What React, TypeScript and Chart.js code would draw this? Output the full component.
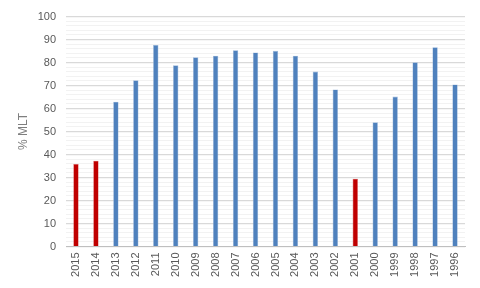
import React, { useEffect, useRef } from "react";
import { Chart, registerables } from "chart.js";

Chart.register(...registerables);

const years = ["2015","2014","2013","2012","2011","2010","2009","2008","2007","2006","2005","2004","2003","2002","2001","2000","1999","1998","1997","1996"];
const values = [35.9,37.3,63.0,72.3,87.7,78.8,82.3,83.0,85.4,84.4,85.1,83.0,76.1,68.3,29.5,54.0,65.2,80.1,86.7,70.5];
const highlightYears = ["2015","2014","2001"];
const yTitle = "% MLT";

export default function App() {
  const ref = useRef<HTMLCanvasElement>(null);
  useEffect(() => {
    if (!ref.current) return;
    const colors = years.map(y => highlightYears.includes(y) ? "#C00000" : "#4F81BD");
    const borders = years.map(y => highlightYears.includes(y) ? "#D96666" : "#9BB7DA");
    const chart = new Chart(ref.current, {
      type: "bar",
      data: {
        labels: years,
        datasets: [{
          data: values,
          backgroundColor: colors,
          borderColor: borders,
          borderWidth: { left: 0.6, right: 0.6, top: 0.6, bottom: 0 },
          barPercentage: 0.27,
          categoryPercentage: 1,
        }],
      },
      options: {
        animation: false,
        responsive: false,
        maintainAspectRatio: false,
        layout: { padding: { top: 6.5, right: 15, bottom: 0, left: 0 } },
        plugins: { legend: { display: false }, tooltip: { enabled: false } },
        scales: {
          x: {
            grid: { display: false, drawTicks: false },
            border: { color: "#BFBFBF" },
            ticks: {
              color: "#595959",
              font: { family: "Liberation Sans", size: 11 },
              maxRotation: 90,
              minRotation: 90,
              autoSkip: false,
              padding: 6,
            },
            afterFit: (s: any) => { s.height = 41.5; },
          },
          y: {
            min: 0,
            max: 100,
            title: {
              display: true,
              text: yTitle,
              color: "#7F7F7F",
              font: { family: "Liberation Sans", size: 12 },
              padding: { top: 16, bottom: 4 },
            },
            grid: {
              drawTicks: false,
              color: (c: any) => (c.tick && c.tick.value % 10 === 0 ? "#D9D9D9" : "#F2F2F2"),
              lineWidth: (c: any) => (c.tick && c.tick.value % 10 === 0 ? 1.2 : 1),
            },
            border: { display: false },
            ticks: {
              stepSize: 2,
              autoSkip: false,
              color: "#595959",
              font: { family: "Liberation Sans", size: 11 },
              padding: 10,
              callback: (v: any) => (v % 10 === 0 ? String(v) : ""),
            },
            afterFit: (s: any) => { s.width = 66; },
          },
        },
      },
    });
    return () => chart.destroy();
  }, []);
  return (
    <div style={{ position: "fixed", left: 0, top: 0, width: 480, height: 288, background: "#fff" }}>
      <canvas ref={ref} width={480} height={288} style={{ width: 480, height: 288 }} />
    </div>
  );
}
